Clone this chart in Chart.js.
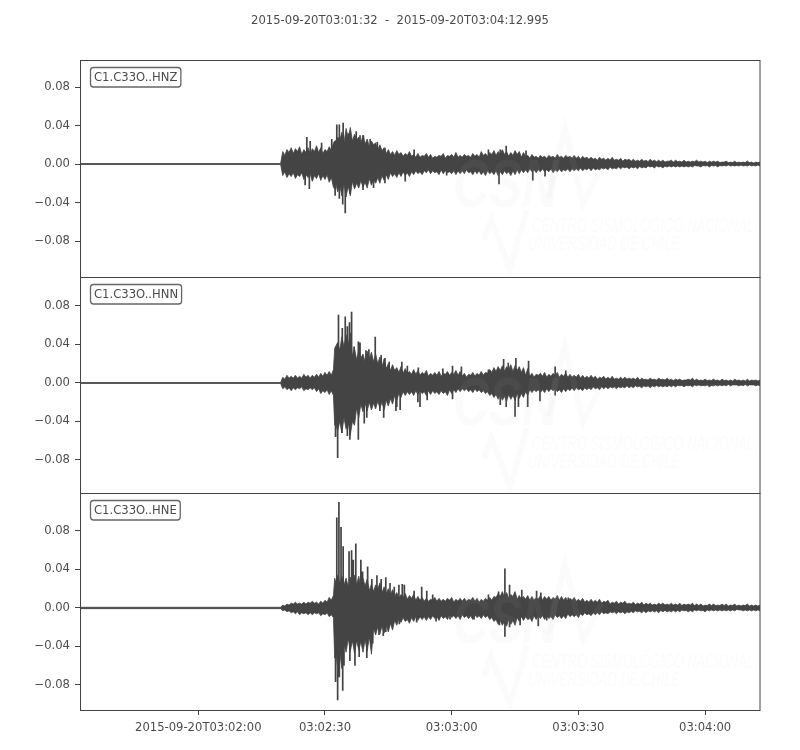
<!DOCTYPE html>
<html>
<head>
<meta charset="utf-8">
<title>C1.C33O</title>
<style>
  html, body { margin: 0; padding: 0; background: #fff; }
  canvas { display: block; }
</style>
<script src="https://cdn.jsdelivr.net/npm/chart.js@4/dist/chart.umd.min.js"></script>
</head>
<body>
<canvas id="traces" width="800" height="750"></canvas>
<script>
const titleText = "2015-09-20T03:01:32  -  2015-09-20T03:04:12.995";
const traceNames = ["C1.C33O..HNZ", "C1.C33O..HNN", "C1.C33O..HNE"];

// seconds after 03:01:32
const xTickSeconds = [28, 58, 88, 118, 148];
const xTickLabels = ["2015-09-20T03:02:00", "03:02:30", "03:03:00", "03:03:30", "03:04:00"];
const yTickValues = [0.08, 0.04, 0, -0.04, -0.08];
const yTickLabels = ["0.08", "0.04", "0.00", "\u22120.04", "\u22120.08"];

const seconds = [0, 47.5, 48, 49, 50, 51, 52, 53, 54, 55, 56, 57, 58, 59,
  60, 60.3,
  61, 62, 63, 64, 65, 66, 67, 68, 69, 70,
  71, 72, 73, 74, 75, 76, 77, 78, 79, 80,
  81, 82, 83, 84, 85, 86, 87, 88, 89, 90,
  91, 92, 93, 94, 95, 96, 97, 98, 99, 100,
  101, 102, 103, 104, 105, 106, 107, 108, 109, 110,
  111, 112, 113, 114, 115, 116, 117, 118, 119, 120,
  121, 122, 123, 124, 125, 126, 127, 128, 129, 130,
  131, 132, 133, 134, 135, 136, 137, 138, 139, 140,
  141, 142, 143, 144, 145, 146, 147, 148, 149, 150,
  151, 152, 153, 154, 155, 156, 157, 158, 159, 160, 161];

// body of each trace, upper and lower edge, in thousandths
const zHigh = [0.5, 0.5, 13, 15, 17, 16, 18, 15, 17, 16, 19, 17, 15, 18,
  22, 24,
  28, 33, 37, 38, 31, 28, 30, 26, 24, 22,
  20, 17, 15, 13, 14, 12, 11, 13, 10, 11,
  9, 11, 10, 8, 9, 11, 9, 10, 12, 9,
  10, 9, 11, 10, 13, 11, 12, 14, 13, 15,
  13, 12, 14, 13, 12, 9, 10, 8, 9, 8,
  9, 8, 10, 8, 9, 8, 9, 8, 8, 7,
  7, 6, 7, 6, 6, 7, 5, 6, 5, 5,
  5, 4, 5, 4, 5, 4, 4, 4, 3, 4,
  4, 3, 4, 3, 3, 4, 3, 3, 3, 3,
  3, 2, 3, 2, 3, 2, 2, 3, 2, 2, 2];
const zLow = [-0.5, -0.5, -12, -14, -13, -15, -13, -16, -14, -18, -15, -17, -16, -19,
  -24, -26,
  -29, -33, -34, -33, -26, -25, -24, -25, -22, -20,
  -20, -17, -16, -13, -14, -13, -12, -13, -11, -10,
  -11, -9, -10, -9, -11, -10, -9, -10, -11, -10,
  -10, -9, -11, -10, -11, -12, -10, -11, -12, -11,
  -10, -12, -11, -10, -9, -9, -8, -9, -8, -8,
  -8, -9, -8, -8, -7, -8, -7, -7, -7, -6,
  -7, -6, -6, -5, -6, -5, -5, -5, -4, -5,
  -4, -5, -4, -4, -3, -4, -3, -4, -3, -3,
  -3, -3, -3, -3, -3, -2, -3, -2, -3, -2,
  -3, -2, -2, -2, -2, -2, -2, -2, -2, -2, -2];
const nHigh = [0.5, 0.5, 6, 8, 7, 8, 7, 9, 8, 8, 9, 10, 11, 12,
  14, 36,
  42, 48, 50, 52, 36, 34, 30, 33, 32, 30,
  27, 25, 20, 19, 16, 17, 15, 12, 14, 13,
  11, 13, 10, 11, 12, 10, 12, 11, 13, 12,
  10, 9, 11, 10, 12, 11, 14, 16, 17, 18,
  17, 19, 18, 17, 16, 15, 10, 9, 10, 11,
  9, 10, 11, 9, 10, 9, 8, 9, 8, 7,
  8, 7, 6, 7, 6, 7, 5, 6, 6, 5,
  5, 6, 5, 4, 5, 4, 5, 4, 5, 4,
  4, 4, 3, 4, 5, 4, 3, 4, 3, 4,
  3, 4, 3, 3, 4, 3, 3, 4, 3, 3, 3];
const nLow = [-0.5, -0.5, -6, -7, -8, -7, -6, -8, -7, -7, -9, -11, -10, -12,
  -13, -44,
  -50, -52, -48, -54, -44, -36, -30, -29, -28, -27,
  -26, -28, -24, -22, -18, -15, -13, -12, -13, -12,
  -11, -13, -12, -11, -12, -11, -13, -11, -10, -9,
  -8, -9, -10, -9, -10, -11, -13, -15, -17, -18,
  -19, -17, -18, -16, -15, -13, -10, -9, -10, -10,
  -9, -8, -9, -10, -9, -8, -8, -7, -8, -7,
  -7, -6, -7, -6, -6, -5, -6, -5, -5, -5,
  -5, -4, -5, -4, -5, -4, -4, -4, -4, -4,
  -4, -3, -4, -3, -4, -3, -3, -3, -4, -3,
  -3, -3, -3, -3, -2, -3, -3, -3, -2, -3, -3];
const eHigh = [0.7, 0.7, 3, 4, 5, 6, 5, 6, 6, 7, 6, 7, 8, 11,
  13, 31,
  34, 33, 31, 32, 34, 33, 31, 30, 25, 24,
  26, 22, 20, 19, 16, 14, 15, 13, 14, 12,
  11, 10, 9, 11, 10, 9, 10, 11, 9, 10,
  10, 9, 11, 10, 9, 10, 11, 12, 15, 17,
  16, 14, 17, 13, 12, 13, 12, 11, 13, 12,
  12, 11, 13, 12, 11, 10, 11, 9, 10, 8,
  9, 8, 9, 7, 8, 6, 7, 6, 7, 5,
  6, 5, 6, 5, 5, 4, 5, 5, 4, 5,
  4, 5, 4, 4, 5, 4, 4, 3, 4, 4,
  3, 4, 4, 3, 4, 3, 3, 4, 3, 3, 3];
const eLow = [-0.7, -0.7, -3, -4, -5, -6, -7, -6, -7, -7, -6, -8, -7, -9,
  -10, -52,
  -62, -63, -46, -45, -47, -44, -46, -45, -48, -28,
  -27, -26, -25, -23, -18, -15, -14, -16, -14, -13,
  -12, -13, -12, -11, -13, -11, -12, -10, -11, -12,
  -10, -11, -12, -10, -11, -10, -12, -14, -17, -18,
  -19, -17, -18, -14, -13, -12, -14, -12, -11, -12,
  -11, -12, -10, -11, -11, -9, -9, -10, -8, -7,
  -8, -7, -7, -6, -6, -5, -6, -5, -6, -5,
  -5, -4, -5, -5, -4, -4, -5, -4, -4, -4,
  -4, -4, -3, -4, -4, -3, -3, -4, -3, -3,
  -3, -3, -3, -3, -3, -2, -3, -3, -3, -3, -3];

// the dips between the body's teeth, half a second after each sample
const notchSeconds = [48.5, 49.5, 50.5, 51.5, 52.5, 53.5, 54.5, 55.5, 56.5, 57.5, 58.5, 59.5,
  60.5, 61.5, 62.5, 63.5, 64.5, 65.5, 66.5, 67.5, 68.5, 69.5,
  70.5, 71.5, 72.5, 73.5, 74.5, 75.5, 76.5, 77.5, 78.5, 79.5,
  80.5, 81.5, 82.5, 83.5, 84.5, 85.5, 86.5, 87.5, 88.5, 89.5,
  90.5, 91.5, 92.5, 93.5, 94.5, 95.5, 96.5, 97.5, 98.5, 99.5,
  100.5, 101.5, 102.5, 103.5, 104.5, 105.5, 106.5, 107.5, 108.5, 109.5,
  110.5, 111.5, 112.5, 113.5, 114.5, 115.5, 116.5, 117.5, 118.5, 119.5,
  120.5, 121.5, 122.5, 123.5, 124.5, 125.5, 126.5, 127.5, 128.5, 129.5,
  130.5, 131.5, 132.5, 133.5, 134.5, 135.5, 136.5, 137.5, 138.5, 139.5,
  140.5, 141.5, 142.5, 143.5, 144.5, 145.5, 146.5, 147.5, 148.5, 149.5,
  150.5, 151.5, 152.5, 153.5, 154.5, 155.5, 156.5, 157.5, 158.5, 159.5, 160.5];
const zHighNotch = [9, 12, 11, 13, 10, 12, 10, 13, 12, 11, 13, 14,
  24, 25, 22, 27, 24, 25, 22, 21, 18, 20,
  15, 14, 11, 10, 9, 10, 8, 9, 8, 7,
  7, 8, 7, 6, 7, 8, 6, 8, 7, 7,
  7, 8, 7, 8, 7, 9, 8, 10, 9, 10,
  10, 8, 9, 10, 7, 8, 6, 7, 6, 7,
  6, 7, 6, 7, 6, 7, 6, 6, 5, 6,
  5, 5, 4, 5, 4, 4, 4, 4, 3, 4,
  3, 3, 3, 3, 2.5, 3, 2.5, 2.5, 2, 3,
  2, 2.5, 2, 2, 2, 2.5, 2, 2, 1.5, 2,
  2, 1.5, 2, 1.5, 1.5, 1.5, 1.5, 1.5, 1.5, 1, 1.5];
const zLowNotch = [-8, -10, -9, -11, -9, -11, -10, -12, -10, -12, -11, -14,
  -19, -22, -20, -23, -18, -20, -17, -19, -15, -16,
  -14, -12, -11, -9, -10, -9, -8, -9, -8, -7,
  -8, -7, -6, -7, -8, -6, -7, -8, -7, -7,
  -7, -6, -8, -7, -7, -8, -7, -8, -7, -8,
  -7, -8, -7, -6, -6, -6, -5, -6, -6, -5,
  -6, -5, -6, -5, -6, -5, -5, -5, -4, -5,
  -4, -4, -5, -4, -4, -3, -4, -3, -3, -3,
  -3, -3, -2.5, -3, -2, -2.5, -2, -2.5, -2, -2,
  -2, -2, -2, -2, -2, -1.5, -2, -1.5, -1.5, -1.5,
  -1.5, -1.5, -1.5, -1, -1.5, -1.5, -1, -1.5, -1, -1.5, -1];
const nHighNotch = [4, 5, 5, 5, 5, 6, 5, 6, 6, 7, 8, 8,
  38, 34, 38, 40, 28, 24, 26, 22, 25, 22,
  20, 17, 15, 13, 13, 11, 10, 10, 9, 9,
  8, 9, 7, 8, 8, 7, 9, 8, 9, 8,
  7, 6, 8, 7, 8, 8, 10, 11, 12, 13,
  12, 14, 12, 13, 11, 8, 7, 6, 8, 7,
  6, 7, 8, 6, 7, 6, 6, 6, 5, 5,
  5, 5, 4, 5, 4, 4, 4, 4, 4, 4,
  4, 3.5, 3, 3.5, 3, 3.5, 3, 3.5, 3, 3,
  2.5, 3, 2.5, 3, 3, 2.5, 2.5, 2.5, 2.5, 2.5,
  2.5, 2, 2.5, 2, 2, 2.5, 2, 2, 2, 2.5, 2];
const nLowNotch = [-4, -5, -5, -5, -4, -6, -5, -5, -6, -8, -7, -8,
  -42, -40, -36, -42, -40, -26, -22, -21, -20, -21,
  -19, -20, -18, -16, -13, -11, -9, -9, -9, -8,
  -8, -9, -8, -8, -9, -8, -9, -7, -7, -6,
  -6, -6, -7, -6, -7, -8, -9, -11, -12, -13,
  -14, -12, -13, -11, -11, -9, -7, -7, -7, -7,
  -6, -6, -6, -7, -6, -6, -5, -5, -6, -5,
  -5, -4, -5, -4, -4, -4, -4, -4, -4, -3,
  -3.5, -3, -3.5, -3, -3, -3, -2.5, -3, -3, -2.5,
  -2.5, -2.5, -2.5, -2.5, -2.5, -2, -2, -2.5, -2, -2.5,
  -2, -2, -2, -1.5, -2, -2, -2, -1.5, -2, -2, -2];
const eHighNotch = [2, 3, 4, 4, 4, 4, 5, 5, 4, 5, 6, 8,
  27, 25, 24, 22, 26, 24, 22, 23, 18, 17,
  20, 16, 15, 14, 12, 10, 11, 9, 10, 8,
  8, 7, 7, 8, 7, 7, 7, 8, 6, 7,
  7, 7, 8, 7, 6, 7, 8, 8, 11, 12,
  11, 10, 12, 9, 9, 9, 8, 8, 9, 8,
  9, 8, 9, 8, 8, 7, 8, 7, 7, 6,
  6, 6, 6, 5, 6, 4, 5, 4, 5, 4,
  4, 3.5, 4, 3, 3.5, 3, 3, 3.5, 3, 3,
  3, 3, 2.5, 3, 3, 2.5, 2.5, 2, 2.5, 2.5,
  2.5, 2.5, 2.5, 2, 2.5, 2, 2, 2.5, 2, 2, 2];
const eLowNotch = [-2, -3, -4, -4, -5, -5, -5, -5, -5, -6, -5, -7,
  -44, -46, -36, -32, -34, -34, -35, -33, -30, -21,
  -20, -19, -18, -16, -13, -11, -10, -12, -10, -9,
  -9, -9, -9, -8, -9, -8, -9, -7, -8, -8,
  -7, -8, -8, -7, -8, -7, -8, -10, -12, -13,
  -14, -12, -13, -10, -9, -9, -10, -8, -8, -8,
  -8, -9, -7, -8, -8, -6, -7, -7, -6, -5,
  -6, -5, -5, -4, -5, -4, -4, -4, -4, -4,
  -3.5, -3, -3.5, -3, -3, -3, -3, -2.5, -2.5, -3,
  -2.5, -2.5, -2, -2.5, -2.5, -2, -2, -2.5, -2, -2,
  -2, -2, -2, -2, -2, -1.5, -2, -2, -2, -2, -2];

// single tall swings on top of the body
const zSpikeTimes = [53.7, 54.5, 57.2, 59.6, 60.8, 61.4, 62.3, 63.6, 65.4, 66.3, 67.1, 68.7, 70.4, 72.2, 79.1, 96.7, 99.5, 100.9, 105.6,
  53.3, 54.3, 60.4, 61.4, 62.2, 62.8, 63.9, 67, 69.5, 72.2, 77, 86.8, 99.2, 107.2, 110.1];
const zSpikeValues = [28, 24, 22, 26, 41, 41, 43, 32, 34, 30, 30, 26, 23, 17, 15, 15, 15, 19, 14,
  -22, -26, -33, -36, -42, -51, -31, -27, -25, -20, -18, -12, -21, -17, -13];
const nSpikeTimes = [61.2, 62.1, 62.8, 63.3, 63.8, 64.3, 64.9, 65.9, 66.3, 67.7, 68.4, 69.9, 71.3, 72.2, 73.2, 76.2, 77.5, 80.1, 85.9, 88.2, 90.3, 96.7, 100.3, 101.4, 103.2, 106.2, 112.5, 115,
  60.5, 61, 62, 63.3, 63.9, 65.9, 67.3, 67.9, 71, 71.9, 74.8, 75, 75.8, 80, 80.5, 82.2, 88.2, 99.5, 100.9, 103, 103.8, 106, 108.9, 112.5];
const nSpikeValues = [71, 57, 69, 59, 63, 74, 38, 43, 42, 34, 35, 48, 29, 26, 22, 22, 18, 16, 15, 18, 17, 14, 25, 21, 26, 23, 17, 13,
  -56, -78, -52, -55, -59, -59, -42, -36, -29, -36, -29, -25, -28, -20, -25, -18, -17, -23, -25, -35, -25, -25, -19, -13];
const eSpikeTimes = [60.8, 61.3, 61.8, 62.3, 63.7, 64.3, 64.7, 65.3, 66.5, 66.9, 68.1, 69.1, 70.3, 71.3, 72.4, 73.4, 74.4, 75.5, 76.3, 76.8, 79.1, 80.9, 82.1, 83.5, 96.7, 99.1, 100.6, 101.7, 104.6, 108.1, 109.1, 115.6,
  60.5, 61, 61.4, 62.2, 62.5, 63.9, 65.1, 66.1, 67.9, 69.3, 70.8, 71.8, 72.4, 75.6, 79.7, 84.3, 87.6, 93.3, 99.3, 100.6, 101.7, 104.2, 106.2, 108.5, 110.5];
const eSpikeValues = [94, 110, 84, 64, 59, 60, 50, 67, 50, 38, 43, 30, 34, 30, 32, 26, 22, 24, 25, 24, 18, 22, 18, 14, 14, 17, 41, 24, 19, 18, 16, 11,
  -77, -96, -72, -86, -60, -55, -60, -51, -52, -37, -28, -29, -25, -17, -15, -14, -12, -12, -18, -30, -20, -18, -12, -19, -13];

const inkColor = "#444444";
const textColor = "#4b4b4b";
const tickFont = { family: "DejaVu Sans", size: 11.6 };
const panelShift = [0, 218, 436];

function edgePoints(values, notches) {
  const points = values.map((v, i) => ({ x: seconds[i], y: v / 1000 }));
  notches.forEach((v, i) => points.push({ x: notchSeconds[i], y: v / 1000 }));
  return points.sort((a, b) => a.x - b.x);
}

function spikePoints(times, values) {
  const points = [];
  times.forEach((t, i) => {
    points.push({ x: t, y: 0 }, { x: t, y: values[i] / 1000 }, { x: t, y: null });
  });
  return points;
}

function traceDatasets(axis, high, highNotch, low, lowNotch, spikeTimes, spikeValues) {
  const base = { yAxisID: axis, pointRadius: 0, borderColor: inkColor, borderWidth: 0.8, tension: 0 };
  return [
    { ...base, data: edgePoints(high, highNotch), fill: false },
    { ...base, data: edgePoints(low, lowNotch), fill: "-1", backgroundColor: inkColor },
    { ...base, data: spikePoints(spikeTimes, spikeValues), fill: false, spanGaps: false, borderWidth: 1.7 },
  ];
}

function yAxis(min, max) {
  return {
    type: "linear",
    position: "left",
    stack: "traces",
    stackWeight: 1,
    min: min,
    max: max,
    border: { display: false },
    grid: { drawOnChartArea: false, tickLength: 5, tickColor: inkColor },
    ticks: {
      color: textColor,
      font: tickFont,
      padding: 5,
      autoSkip: false,
      callback: (value, index) => yTickLabels[index],
    },
    afterBuildTicks: (scale) => {
      scale.ticks = yTickValues.map((v) => ({ value: v }));
    },
    afterFit: (scale) => {
      scale.width = 80;
    },
  };
}

// title, watermark, frames and trace name boxes
const panelDecor = {
  id: "panelDecor",
  afterDatasetsDraw(chart) {
    const ctx = chart.ctx;
    const area = chart.chartArea;
    const axes = [chart.scales.yZ, chart.scales.yN, chart.scales.yE];
    ctx.save();
    ctx.font = "11.6px 'DejaVu Sans'";
    ctx.fillStyle = textColor;
    ctx.textAlign = "center";
    ctx.textBaseline = "middle";
    ctx.fillText(titleText, 400, 21);
    ctx.beginPath();
    ctx.rect(area.left, area.top, area.right - area.left, area.bottom - area.top);
    ctx.clip();
    panelShift.forEach((dy) => {
      ctx.fillStyle = "rgba(190, 190, 190, 0.06)";
      ctx.strokeStyle = "rgba(190, 190, 190, 0.06)";
      ctx.lineJoin = "miter";
      ctx.textAlign = "left";
      ctx.textBaseline = "alphabetic";
      ctx.font = "italic bold 68px 'Liberation Sans'";
      ctx.fillText("CSN", 453, 207 + dy, 105);
      ctx.font = "italic 20px 'Liberation Sans'";
      ctx.fillText("CENTRO SISMOLÓGICO NACIONAL", 532, 232 + dy, 222);
      ctx.fillText("UNIVERSIDAD DE CHILE", 528, 250 + dy, 152);
      ctx.lineWidth = 6;
      ctx.beginPath();
      ctx.moveTo(548, 198 + dy);
      ctx.lineTo(565, 128 + dy);
      ctx.lineTo(583, 204 + dy);
      ctx.lineTo(601, 168 + dy);
      ctx.stroke();
      ctx.beginPath();
      ctx.moveTo(484, 240 + dy);
      ctx.lineTo(491, 220 + dy);
      ctx.lineTo(510, 268 + dy);
      ctx.lineTo(527, 210 + dy);
      ctx.stroke();
    });
    ctx.restore();

    ctx.save();
    axes.forEach((axis, i) => {
      const top = Math.round(axis.top);
      const bottom = Math.round(axis.bottom);
      ctx.strokeStyle = inkColor;
      ctx.lineWidth = 1;
      ctx.strokeRect(Math.round(area.left) + 0.5, top + 0.5,
        Math.round(area.right - area.left) - 0.5, bottom - top);

      ctx.font = "11.6px 'DejaVu Sans'";
      ctx.textAlign = "left";
      ctx.textBaseline = "middle";
      const w = ctx.measureText(traceNames[i]).width;
      const bx = area.left + 10.5;
      const by = top + 7.5;
      ctx.beginPath();
      ctx.roundRect(bx, by, w + 7, 19.5, 3);
      ctx.fillStyle = "#ffffff";
      ctx.fill();
      ctx.strokeStyle = "#666666";
      ctx.lineWidth = 1.3;
      ctx.stroke();
      ctx.fillStyle = textColor;
      ctx.fillText(traceNames[i], bx + 3.5, by + 10);
    });
    ctx.restore();
  },
};

const ctx = document.getElementById("traces").getContext("2d");
new Chart(ctx, {
  type: "line",
  data: {
    datasets: [
      ...traceDatasets("yZ", zHigh, zHighNotch, zLow, zLowNotch, zSpikeTimes, zSpikeValues),
      ...traceDatasets("yN", nHigh, nHighNotch, nLow, nLowNotch, nSpikeTimes, nSpikeValues),
      ...traceDatasets("yE", eHigh, eHighNotch, eLow, eLowNotch, eSpikeTimes, eSpikeValues),
    ],
  },
  options: {
    responsive: false,
    animation: false,
    parsing: false,
    normalized: true,
    layout: { padding: { top: 60, right: 40 } },
    plugins: {
      legend: { display: false },
      tooltip: { enabled: false },
    },
    scales: {
      x: {
        type: "linear",
        min: 0,
        max: 160.995,
        border: { display: false },
        grid: { drawOnChartArea: false, tickLength: 5, tickColor: inkColor },
        ticks: {
          color: textColor,
          font: tickFont,
          padding: 6,
          autoSkip: false,
          maxRotation: 0,
          callback: (value, index) => xTickLabels[index],
        },
        afterBuildTicks: (scale) => {
          scale.ticks = xTickSeconds.map((v) => ({ value: v }));
        },
        afterFit: (scale) => {
          scale.height = 40;
        },
      },
      // stack fills from the bottom up
      yE: yAxis(-0.106, 0.1191),
      yN: yAxis(-0.11465, 0.11045),
      yZ: yAxis(-0.117, 0.1081),
    },
  },
  plugins: [panelDecor],
});
</script>
</body>
</html>
